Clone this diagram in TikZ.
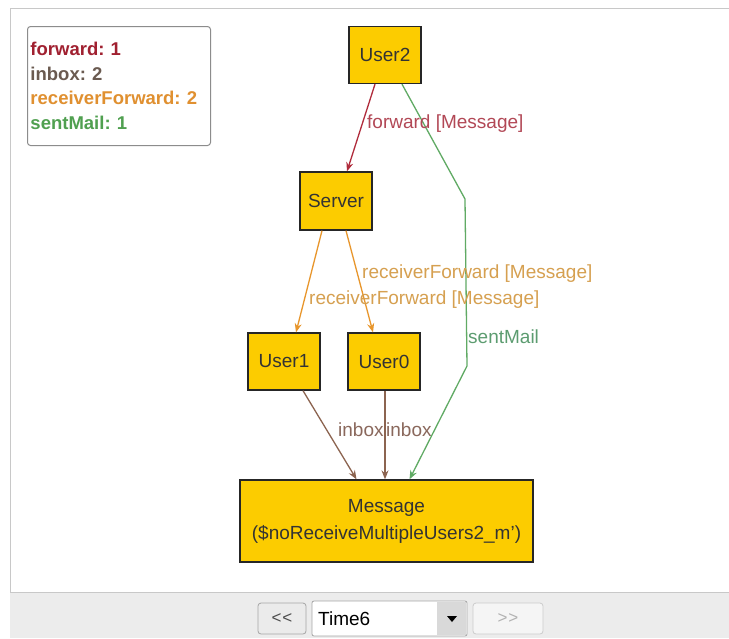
\documentclass[tikz,border=0pt]{standalone}
\usepackage{fontspec}
\setmainfont{Liberation Sans}
\usetikzlibrary{arrows.meta}
\definecolor{nodefill}{RGB}{252,204,0}
\definecolor{fwdcol}{RGB}{176,44,60}
\definecolor{fwdtxt}{RGB}{178,72,86}
\definecolor{inbcol}{RGB}{140,100,80}
\definecolor{inbtxt}{RGB}{138,104,92}
\definecolor{rfcol}{RGB}{232,150,44}
\definecolor{rftxt}{RGB}{214,160,80}
\definecolor{smcol}{RGB}{96,170,100}
\definecolor{smtxt}{RGB}{92,156,112}
\definecolor{legfwd}{RGB}{160,32,48}
\definecolor{leginb}{RGB}{106,90,80}
\definecolor{legrf}{RGB}{224,144,48}
\definecolor{legsm}{RGB}{80,160,80}
\definecolor{framecol}{RGB}{200,200,200}
\definecolor{barcol}{RGB}{236,236,236}
\frenchspacing
\begin{document}
\begin{tikzpicture}[x=1pt,y=-1pt,
  box/.style={draw=black!85, line width=1.3pt, fill=nodefill, text=black!80,
    font=\fontsize{19}{27}\selectfont, inner sep=0pt, align=center},
  small/.style={box, minimum width=72pt, minimum height=57pt},
  conn/.style={line width=1.3pt, -{Stealth[length=9pt,width=7pt]}},
  lbl/.style={anchor=west, inner sep=0pt, font=\fontsize{19}{22}\selectfont},
  btn/.style={draw=black!35, rounded corners=3pt, line width=0.8pt, inner sep=0pt,
    font=\fontsize{17}{20}\selectfont}
]
\useasboundingbox (0,0) rectangle (729,638);
\fill[white] (0,0) rectangle (729,638);

% panel frame and control bar
\fill[barcol] (10,593) rectangle (729,638);
\draw[framecol, line width=1pt] (729,8.5) -- (10.5,8.5) -- (10.5,592.5) -- (729,592.5);

% legend
\node[draw=black!45, line width=1pt, rounded corners=3pt, anchor=north west,
  minimum width=183pt, minimum height=119pt, text width=177pt, inner xsep=3pt,
  align=left, font=\bfseries\fontsize{18.5}{24.5}\selectfont] (legend) at (27,26)
  {\textcolor{legfwd}{forward: 1}\\
   \textcolor{leginb}{inbox: 2}\\
   \textcolor{legrf}{receiverForward: 2}\\
   \textcolor{legsm}{sentMail: 1}};

% nodes
\node[small] (u2) at (385,55) {User2};
\node[small, minimum height=58pt] (srv) at (336,201) {Server};
\node[small] (u1) at (284,361.5) {User1};
\node[small] (u0) at (384,361.5) {User0};
\node[box, minimum width=293pt, minimum height=82pt] (msg) at (386.5,521)
  {Message\\(\$noReceiveMultipleUsers2\_m')};

% connectors
\coordinate (g1) at (465,199);
\coordinate (g2) at (467,366);
\draw[conn, smcol] ([xshift=17pt]u2.south) -- (g1) -- (g2) -- ([xshift=23pt]msg.north);
\draw[conn, fwdcol] ([xshift=-10pt]u2.south) -- ([xshift=11pt]srv.north);
\draw[conn, rfcol] ([xshift=-14pt]srv.south) -- ([xshift=12pt]u1.north);
\draw[conn, rfcol] ([xshift=10pt]srv.south) -- ([xshift=-11pt]u0.north);
\draw[conn, inbcol] ([xshift=19pt]u1.south) -- ([xshift=-30pt]msg.north);
\draw[conn, inbcol] ([xshift=1pt]u0.south) -- ([xshift=-1.5pt]msg.north);

% connector labels
\node[lbl, text=fwdtxt] (lfwd) at (367,124) {forward [Message]};
\node[lbl, text=rftxt] (lrf0) at (362,274) {receiverForward [Message]};
\node[lbl, text=rftxt] (lrf1) at (309,300) {receiverForward [Message]};
\node[lbl, text=smtxt] (lsm) at (468,337) {sentMail};
\node[lbl, text=inbtxt] (lin1) at (338,430) {inbox};
\node[lbl, text=inbtxt] (lin0) at (386,430) {inbox};

% time controls
\node[btn, fill=black!8, minimum width=48pt, minimum height=31pt, text=black!70]
  (prev) at (282,618.5) {<\kern1pt<};
\node[btn, fill=white, rounded corners=2pt, minimum width=155pt, minimum height=35pt]
  (sel) at (389.5,618.5) {};
\fill[black!15] (437,602) rectangle (466,635);
\fill[black] (447,616) -- (457,616) -- (452,622) -- cycle;
\node[lbl, text=black, font=\fontsize{19}{22}\selectfont] (seltxt) at (318,619) {Time6};
\node[btn, draw=black!20, fill=black!4, minimum width=70pt, minimum height=31pt, text=black!30]
  (next) at (508,618.5) {>\kern1pt>};
\end{tikzpicture}
\end{document}
